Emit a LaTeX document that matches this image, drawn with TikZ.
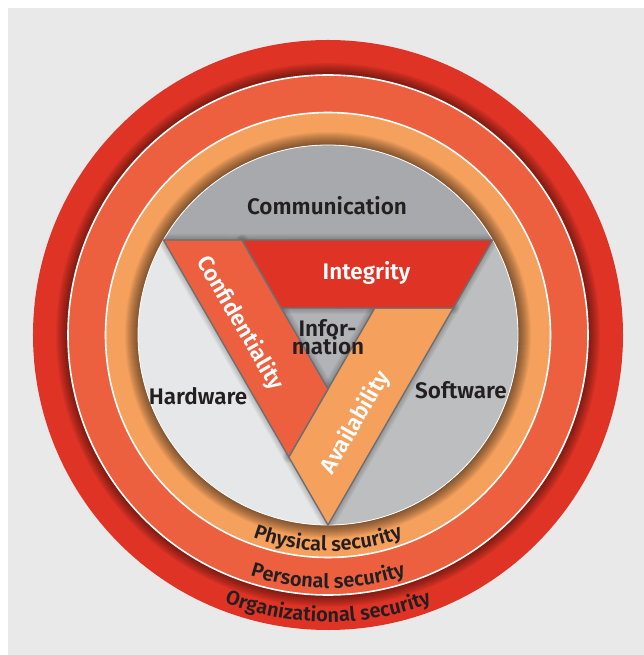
\documentclass[tikz,border=0pt]{standalone}
\usepackage{fontspec}
\setmainfont{Fira Sans}[BoldFont={Fira Sans SemiBold}]
\usetikzlibrary{decorations.text}

\definecolor{bggray}{RGB}{233,233,233}
\definecolor{orgred}{RGB}{223,51,38}
\definecolor{perorange}{RGB}{236,96,64}
\definecolor{physorange}{RGB}{245,161,93}
\definecolor{commgray}{RGB}{167,169,172}
\definecolor{hardgray}{RGB}{230,231,232}
\definecolor{softgray}{RGB}{188,190,192}
\definecolor{infogray}{RGB}{178,179,182}
\definecolor{gapgray}{RGB}{109,110,113}
\definecolor{inkdark}{RGB}{35,31,32}

\newcommand\ringfont{\fontsize{20}{23}\selectfont\bfseries}

\tikzstyle{areatext} = [font=\fontsize{22.5}{25}\selectfont\bfseries, text=inkdark, inner sep=0pt]
\tikzstyle{bandtext} = [font=\fontsize{22.5}{25}\selectfont\bfseries, text=white, inner sep=0pt]
\tikzstyle{gap} = [draw=gapgray, line width=1.4pt, line join=miter]
\tikzstyle{ringlabel} = [decorate, decoration={text along path, text align=center, text color=inkdark}]

\begin{document}
\begin{tikzpicture}[x=1pt, y=1pt]

    % page and backdrop
    \useasboundingbox (-328,-320) rectangle (316,335);
    \fill[white] (-328,-320) rectangle (316,335);
    \fill[bggray] (-320,-320) rectangle (316,327);

    % outer rings, each with a soft shadow along its inner edge
    \fill[orgred] (0,0) circle[radius=295];
    \foreach \k in {1,...,12}
        \draw[black, opacity=0.045, line width={2*\k pt}] (0,0) circle[radius=260];
    \fill[perorange] (0,0) circle[radius=260];
    \draw[white, line width=1.6pt] (0,0) circle[radius=260];
    \fill[physorange] (0,0) circle[radius=222.5];
    \draw[white, line width=1.6pt] (0,0) circle[radius=222.5];
    \foreach \k in {1,...,13}
        \draw[black, opacity=0.045, line width={2*\k pt}] (0,0) circle[radius=190];

    % corners of the big triangle, the small one and the band ends
    \coordinate (A) at (150:190);
    \coordinate (B) at (30:190);
    \coordinate (V) at (-90:190);
    \coordinate (IA) at (150:54);
    \coordinate (IB) at (30:54);
    \coordinate (IV) at (-90:54);
    \coordinate (E1) at (132.16:128.16);
    \coordinate (E2) at (12.16:128.16);
    \coordinate (E3) at (252.16:128.16);

    % inner disk cut by the triangle
    \fill[hardgray] (0,0) circle[radius=190];
    \fill[commgray] (A) arc[start angle=150, end angle=30, radius=190] -- cycle;
    \fill[softgray] (V) arc[start angle=-90, end angle=30, radius=190] -- cycle;
    \fill[infogray] (A) -- (B) -- (V) -- cycle;
    \draw[white, line width=0.8pt] (0,0) circle[radius=190];

    % shadow under the bands
    \begin{scope}
        \clip (0,0) circle[radius=190];
        \foreach \p/\q/\r/\s in {B/E1/IA/E2, A/E3/IV/E1, V/E2/IB/E3}
            \foreach \k in {1,...,6}
                \draw[black, opacity=0.035, line width={2*\k pt}, line join=round] (\p) -- (\q) -- (\r) -- (\s) -- cycle;
    \end{scope}

    % the three bands
    \draw[gap, fill=physorange] (V) -- (E2) -- (IB) -- (E3) -- cycle;
    \draw[gap, fill=perorange] (A) -- (E3) -- (IV) -- (E1) -- cycle;
    \draw[gap, fill=orgred] (B) -- (E1) -- (IA) -- (E2) -- cycle;

    \node (comm) [areatext, anchor=base] at (-1,120) {Communication};
    \node (infor) [areatext, anchor=base] at (-0.5,-1.7) {Infor-};
    \node (mation) [areatext, anchor=base] at (0,-20) {mation};
    \node (hardware) [areatext, anchor=base] at (-130,-70) {Hardware};
    \node (software) [areatext, anchor=base] at (133,-63.3) {Software};

    \node (integrity) [bandtext, anchor=base] at (38.5,55) {Integrity};
    \node (conf) [bandtext, rotate=-60] at (-88,11.7) {Confidentiality};
    \node (avail) [bandtext, rotate=60] at (27.8,-87.5) {Availability};

    % ring names along the lower arcs
    \path[ringlabel, decoration={text={|\ringfont|Physical security}}]
        (200:216) arc[start angle=200, end angle=340, radius=216];
    \path[ringlabel, decoration={text={|\ringfont|Personal security}}]
        (200:253) arc[start angle=200, end angle=340, radius=253];
    \path[ringlabel, decoration={text={|\ringfont|Organizational security}}]
        (200:287) arc[start angle=200, end angle=340, radius=287];

\end{tikzpicture}
\end{document}
